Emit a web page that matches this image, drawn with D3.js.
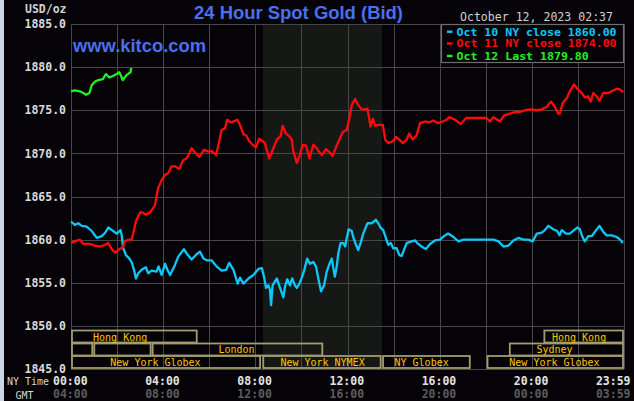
<!DOCTYPE html>
<html><head><meta charset="utf-8">
<script src="https://cdn.jsdelivr.net/npm/d3@7"></script>
<style>
html,body{margin:0;padding:0;background:#050307;overflow:hidden;}
svg{display:block;}
</style></head><body>
<svg id="c" width="634" height="401"></svg>
<script>
// ---- DATA (minutes after 00:00 NY time, price USD/oz) ----
const oct10 = [[0,1862.1],[10,1861.7],[19,1861.9],[28,1861.6],[41,1861.5],[54,1861.0],[67,1860.2],[80,1860.4],[89,1860.8],[97,1861.4],[110,1861.0],[119,1860.7],[129,1861.1],[132,1860.5],[136,1859.0],[143,1858.2],[152,1857.8],[158,1857.4],[164,1856.5],[169,1855.5],[175,1856.1],[184,1856.5],[195,1856.8],[201,1856.1],[210,1856.4],[223,1856.3],[228,1856.9],[236,1855.9],[245,1857.2],[251,1856.5],[258,1855.9],[271,1857.1],[279,1858.0],[294,1858.9],[301,1858.4],[314,1857.7],[327,1858.3],[336,1858.6],[345,1857.8],[353,1857.6],[366,1857.6],[379,1856.9],[392,1856.4],[404,1856.5],[412,1857.3],[423,1856.5],[434,1854.9],[440,1855.6],[449,1854.9],[462,1855.5],[475,1855.9],[488,1856.6],[497,1856.7],[503,1855.6],[508,1854.4],[514,1854.7],[518,1854.2],[521,1852.4],[525,1854.7],[536,1855.5],[542,1854.7],[549,1853.8],[553,1853.3],[557,1854.5],[563,1855.4],[570,1854.7],[576,1855.5],[583,1854.7],[588,1854.4],[595,1854.9],[601,1855.6],[607,1856.4],[615,1857.8],[622,1857.2],[631,1857.4],[638,1856.9],[644,1855.5],[651,1854.0],[659,1854.7],[666,1856.3],[674,1857.3],[679,1857.8],[683,1856.7],[687,1855.7],[692,1856.9],[696,1858.4],[702,1859.6],[709,1859.6],[714,1859.2],[718,1860.2],[723,1861.2],[731,1861.0],[735,1860.3],[742,1859.4],[748,1858.8],[754,1859.6],[761,1860.7],[772,1861.9],[783,1861.9],[794,1862.3],[800,1861.9],[806,1861.4],[813,1861.1],[820,1860.2],[826,1859.4],[833,1859.6],[839,1859.0],[848,1859.0],[855,1858.2],[861,1858.1],[867,1858.8],[874,1859.6],[887,1859.8],[896,1859.9],[904,1859.5],[913,1859.2],[924,1858.9],[935,1859.5],[948,1859.9],[961,1860.0],[971,1860.4],[982,1860.7],[996,1860.3],[1009,1859.8],[1022,1860.0],[1048,1860.0],[1074,1860.0],[1100,1860.0],[1113,1859.8],[1126,1859.2],[1139,1859.3],[1152,1859.9],[1165,1860.2],[1178,1860.0],[1191,1860.0],[1202,1859.8],[1213,1860.7],[1226,1860.8],[1234,1861.1],[1243,1861.6],[1256,1861.2],[1266,1861.0],[1272,1860.5],[1278,1861.1],[1289,1860.7],[1299,1860.7],[1310,1861.1],[1318,1861.4],[1325,1861.2],[1332,1860.3],[1338,1859.8],[1347,1860.4],[1356,1860.4],[1364,1860.9],[1376,1861.6],[1386,1860.9],[1395,1860.5],[1408,1860.5],[1421,1860.3],[1430,1860.0],[1437,1859.6]];

const oct11 = [[0,1859.6],[10,1859.8],[23,1860.0],[32,1859.5],[49,1859.5],[62,1859.3],[76,1859.2],[89,1859.4],[97,1859.6],[106,1858.9],[115,1858.5],[126,1858.9],[135,1859.1],[141,1859.8],[149,1860.0],[158,1860.0],[162,1860.7],[169,1862.1],[175,1862.7],[181,1863.2],[188,1863.1],[195,1862.9],[204,1863.1],[210,1863.4],[219,1864.0],[225,1865.6],[227,1866.0],[236,1866.9],[245,1867.5],[253,1867.7],[262,1868.5],[271,1868.5],[282,1868.2],[292,1869.2],[301,1869.4],[308,1870.0],[314,1870.6],[323,1870.1],[334,1869.6],[346,1870.4],[358,1870.2],[366,1870.3],[378,1869.8],[386,1871.4],[392,1872.7],[401,1872.9],[407,1873.9],[416,1873.6],[424,1873.7],[433,1873.9],[440,1873.3],[449,1872.2],[456,1872.1],[464,1871.4],[473,1871.0],[482,1870.7],[490,1871.7],[505,1871.2],[516,1869.4],[527,1870.6],[536,1871.6],[546,1872.0],[551,1873.2],[560,1872.3],[568,1872.0],[575,1871.6],[579,1870.2],[588,1868.9],[596,1869.8],[603,1871.0],[612,1870.9],[621,1869.4],[631,1871.0],[640,1870.6],[647,1870.1],[653,1869.8],[664,1870.5],[674,1870.1],[681,1869.7],[690,1870.7],[699,1871.6],[708,1872.5],[718,1872.7],[725,1874.1],[731,1875.6],[740,1876.3],[748,1875.6],[757,1875.1],[766,1875.1],[772,1875.2],[777,1873.9],[780,1873.1],[786,1874.0],[792,1873.2],[800,1873.3],[812,1873.3],[818,1871.6],[826,1871.2],[838,1871.4],[846,1871.9],[855,1871.6],[864,1871.2],[874,1871.6],[881,1872.3],[890,1871.6],[900,1872.1],[909,1873.5],[922,1873.7],[933,1873.6],[943,1873.8],[956,1873.5],[968,1873.7],[978,1873.9],[985,1874.2],[1000,1873.9],[1015,1873.4],[1029,1874.1],[1048,1874.1],[1082,1874.1],[1091,1873.7],[1100,1874.2],[1110,1873.9],[1117,1873.7],[1128,1874.4],[1143,1874.6],[1156,1874.8],[1169,1874.8],[1182,1875.0],[1197,1875.1],[1213,1875.0],[1226,1875.1],[1239,1875.4],[1250,1876.0],[1260,1875.4],[1269,1874.6],[1273,1874.6],[1280,1875.8],[1291,1876.4],[1299,1877.2],[1310,1878.0],[1318,1877.5],[1330,1877.0],[1338,1876.5],[1347,1876.6],[1353,1876.0],[1360,1877.0],[1369,1876.6],[1376,1876.1],[1386,1877.0],[1399,1877.0],[1412,1877.3],[1421,1877.5],[1430,1877.4],[1438,1877.1]];

const oct12 = [[0,1877.2],[10,1877.3],[23,1877.2],[32,1877.0],[39,1876.8],[48,1877.0],[54,1877.9],[62,1878.3],[71,1878.5],[83,1878.6],[91,1879.2],[100,1878.8],[110,1879.0],[119,1879.2],[126,1879.4],[135,1878.5],[145,1879.1],[155,1879.4],[157,1879.9]];

const seriesNames = ["Oct 10 NY close 1860.00", "Oct 11 NY close 1874.00", "Oct 12 Last 1879.80"];
const seriesColors = ["#0cc8fa", "#ff0a0a", "#22f022"];

const yTicks = [1845, 1850, 1855, 1860, 1865, 1870, 1875, 1880, 1885];
const gridMinutes = [0,120,240,360,480,600,720,840,960,1080,1200,1320,1440];
const labelMinutes = [0,240,480,720,960,1200,1439];
const nyLabels = ["00:00","04:00","08:00","12:00","16:00","20:00","23:59"];
const gmtLabels = ["04:00","08:00","12:00","16:00","20:00","00:00","03:59"];
const nymexSession = [500, 810];

const sessionRows = [0,0,1,1,1,1,2,2,2,2];
const sessionStart = [0,1230,0,58,210,1140,0,498,810,1082];
const sessionEnd = [330,1440,58,210,657,1440,495,809,1041,1440];
const sessionLabel = ["Hong Kong","Hong Kong","","","London","Sydney","New York Globex","New York NYMEX","NY Globex","New York Globex"];
const sessionLabelAt = [128,1323,0,0,431,1259,220,655,913,1259];

const titleText = "24 Hour Spot Gold (Bid)";
const siteText = "www.kitco.com";
const dateText = "October 12, 2023 02:37";

// ---- CHART ----
const svg = d3.select("#c");
const x = d3.scaleLinear().domain([0,1440]).range([71,624]);
const y = d3.scaleLinear().domain([1845,1885]).range([369,24]);
const mono = "'DejaVu Sans Mono', 'Liberation Mono', monospace";

svg.append("rect").attr("width",634).attr("height",401).attr("fill","#050307");
svg.append("rect").attr("x",0).attr("y",0).attr("width",4).attr("height",401).attr("fill","#cdd4e4");

// NYMEX shading
svg.append("rect")
  .attr("x", x(nymexSession[0])).attr("y", y(1885))
  .attr("width", x(nymexSession[1]) - x(nymexSession[0]))
  .attr("height", y(1845) - y(1885))
  .attr("fill", "#151815");

// grid
const gy = svg.append("g").attr("transform", `translate(${x(0)},0)`)
  .call(d3.axisLeft(y).tickValues(yTicks).tickSize(-(x(1440)-x(0))).tickFormat(""));
gy.select(".domain").remove();
gy.selectAll("line").attr("stroke","#474747").attr("shape-rendering","crispEdges");

const gx = svg.append("g").attr("transform", `translate(0,${y(1845)})`)
  .call(d3.axisBottom(x).tickValues(gridMinutes).tickSize(-(y(1845)-y(1885))).tickFormat(""));
gx.select(".domain").remove();
gx.selectAll("line").attr("stroke","#474747").attr("shape-rendering","crispEdges");

// session boxes
const rowTop = [330.5, 343.5, 356];
const rowBase = [340.5, 353, 365.5];
const sess = d3.range(sessionStart.length);
svg.append("g").selectAll("rect").data(sess).join("rect")
  .attr("x", i => x(sessionStart[i]) + 1)
  .attr("y", i => rowTop[sessionRows[i]])
  .attr("width", i => x(sessionEnd[i]) - x(sessionStart[i]) - 2)
  .attr("height", 12)
  .attr("fill", "none")
  .attr("stroke", "#a39c6c")
  .attr("stroke-width", 1.8);
svg.append("g").selectAll("text").data(sess.filter(i => sessionLabel[i])).join("text")
  .attr("x", i => x(sessionLabelAt[i]))
  .attr("y", i => rowBase[sessionRows[i]])
  .attr("text-anchor", "middle")
  .attr("font-family", mono).attr("font-size", "10px")
  .attr("fill", "#ffc400")
  .text(i => sessionLabel[i]);

// lines
const line = d3.line().x(d => x(d[0])).y(d => y(d[1]));
[oct10, oct11, oct12].forEach((s, i) => {
  svg.append("path").datum(s)
    .attr("d", line).attr("fill","none")
    .attr("stroke", seriesColors[i]).attr("stroke-width", 2.3)
    .attr("stroke-linejoin","round");
});

// y axis labels
const ya = svg.append("g").attr("transform", `translate(${x(0)},0)`)
  .call(d3.axisLeft(y).tickValues(yTicks).tickSize(0).tickPadding(5).tickFormat(d => d.toFixed(1)));
ya.select(".domain").remove();
ya.selectAll("text").attr("font-family", mono).attr("font-size","11.5px")
  .attr("font-weight","bold").attr("fill","#dadada");

svg.append("text").attr("x",25).attr("y",13).attr("font-family",mono)
  .attr("font-size","11.5px").attr("font-weight","bold").attr("fill","#d0d0d0").text("USD/oz");

// x axis labels (NY time and GMT)
function timeAxis(labels, baseline, color) {
  const g = svg.append("g").attr("transform", `translate(0,${baseline})`)
    .call(d3.axisBottom(x).tickValues(labelMinutes).tickSize(0).tickFormat((d,i) => labels[i]));
  g.select(".domain").remove();
  g.selectAll("text").attr("y",0).attr("dy",0).attr("x",-1.2)
    .attr("font-family", mono).attr("font-size","11.5px").attr("font-weight","bold")
    .attr("fill", color);
  g.selectAll("text").filter((d,i) => i === labelMinutes.length-1)
    .attr("text-anchor","end").attr("x", 6.4);
}
timeAxis(nyLabels, 384.5, "#e2e2e2");
timeAxis(gmtLabels, 398, "#5c5c5c");
svg.append("text").attr("x",7).attr("y",385).attr("font-family",mono)
  .attr("font-size","10px").attr("fill","#d4d4d4").text("NY Time");
svg.append("text").attr("x",15.5).attr("y",398.5).attr("font-family",mono)
  .attr("font-size","10px").attr("fill","#d4d4d4").text("GMT");

// title & site
svg.append("text").attr("x",194).attr("y",19)
  .attr("font-family","'Liberation Sans', Arial, sans-serif").attr("font-weight","bold")
  .attr("font-size","18.5px").attr("fill","#4a70f0")
  .attr("textLength",209).attr("lengthAdjust","spacingAndGlyphs").text(titleText);
svg.append("text").attr("x",73).attr("y",52)
  .attr("font-family","'Liberation Sans', Arial, sans-serif").attr("font-weight","bold")
  .attr("font-size","18.3px").attr("fill","#4a70f0")
  .attr("textLength",133).attr("lengthAdjust","spacingAndGlyphs").text(siteText);

svg.append("text").attr("x",460).attr("y",20.5).attr("font-family",mono)
  .attr("font-size","11.5px").attr("fill","#d0d0d0")
  .attr("textLength",153).attr("lengthAdjust","spacingAndGlyphs").text(dateText);

// legend
svg.append("rect").attr("x",441.5).attr("y",24.5).attr("width",182).attr("height",38)
  .attr("fill","#050307").attr("stroke","#6e6e6e").attr("stroke-width",1.2);
const rowC = [31.7, 43.5, 56];
seriesNames.forEach((n, i) => {
  svg.append("rect").attr("x",447).attr("y",rowC[i]-1.2).attr("width",5.5).attr("height",2.4)
    .attr("fill",seriesColors[i]);
  svg.append("text").attr("x",456.5).attr("y",rowC[i]+3.8)
    .attr("font-family",mono).attr("font-size","11px").attr("font-weight","bold")
    .attr("textLength", n.length * 6.96).attr("lengthAdjust","spacingAndGlyphs")
    .attr("fill",seriesColors[i]).text(n);
});
</script>
</body></html>
